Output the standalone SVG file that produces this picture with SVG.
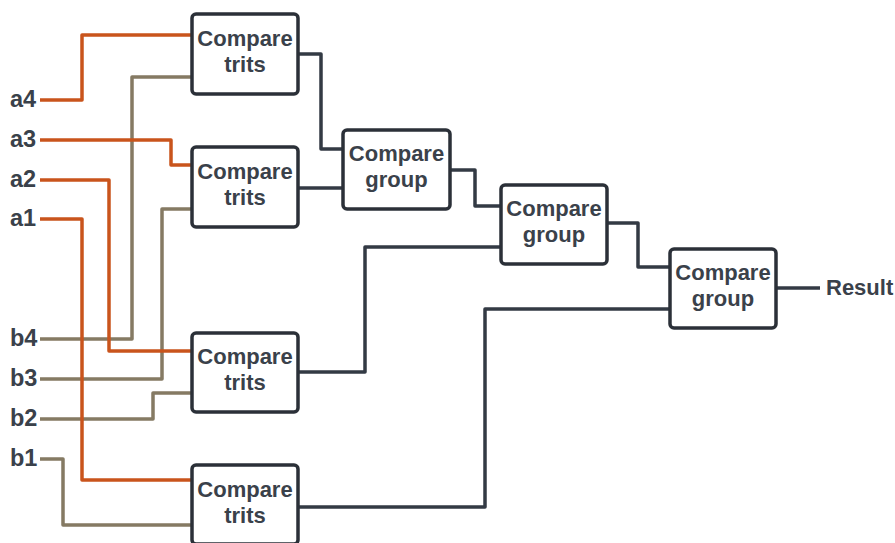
<svg xmlns="http://www.w3.org/2000/svg" width="895" height="543" viewBox="0 0 895 543">
  <style>
    .box { fill: #ffffff; stroke: #2b3038; stroke-width: 3.5; }
    .lbl { font-family: "Liberation Sans", Arial, sans-serif; font-weight: bold; font-size: 22px; fill: #3a414a; }
    .io { font-size: 23.5px; }
    .ctr { text-anchor: middle; }
    .wa { fill: none; stroke: #c9541c; stroke-width: 3.5; stroke-linejoin: round; }
    .wb { fill: none; stroke: #857a63; stroke-width: 3.5; stroke-linejoin: round; }
    .wd { fill: none; stroke: #333a44; stroke-width: 3.5; stroke-linejoin: round; }
  </style>
  <rect width="895" height="543" fill="#ffffff"/>

  <!-- wires -->
  <g id="connectors">
    <path class="wa" d="M40 100 H82 V35 H192"/>
    <path class="wb" d="M40 339 H132 V77 H192"/>
    <path class="wa" d="M40 140 H171 V165 H192"/>
    <path class="wb" d="M40 379 H162 V209 H192"/>
    <path class="wa" d="M40 180 H109 V351 H192"/>
    <path class="wb" d="M40 419 H153 V393 H192"/>
    <path class="wa" d="M40 219 H82 V480 H192"/>
    <path class="wb" d="M40 459 H63 V525 H192"/>

    <path class="wd" d="M298 54 H321 V149 H343"/>
    <path class="wd" d="M298 188 H343"/>
    <path class="wd" d="M450 170 H475 V206 H501"/>
    <path class="wd" d="M298 372 H365 V247 H501"/>
    <path class="wd" d="M607 223 H638 V267 H670"/>
    <path class="wd" d="M298 507 H485 V309 H670"/>
    <path class="wd" d="M776 288 H820"/>
  </g>

  <!-- input labels -->
  <g id="inputs" class="lbl io">
    <text x="10" y="107">a4</text>
    <text x="10" y="147">a3</text>
    <text x="10" y="187">a2</text>
    <text x="10" y="226">a1</text>
    <text x="10" y="346">b4</text>
    <text x="10" y="386">b3</text>
    <text x="10" y="426">b2</text>
    <text x="10" y="466">b1</text>
  </g>

  <g id="ct1">
    <rect class="box" x="192" y="14" width="106" height="80" rx="4"/>
    <text class="lbl ctr" x="245" y="46">Compare</text>
    <text class="lbl ctr" x="245" y="72">trits</text>
  </g>
  <g id="ct2">
    <rect class="box" x="192" y="147" width="106" height="80" rx="4"/>
    <text class="lbl ctr" x="245" y="179">Compare</text>
    <text class="lbl ctr" x="245" y="205">trits</text>
  </g>
  <g id="ct3">
    <rect class="box" x="192" y="333" width="106" height="79" rx="4"/>
    <text class="lbl ctr" x="245" y="364">Compare</text>
    <text class="lbl ctr" x="245" y="390">trits</text>
  </g>
  <g id="ct4">
    <rect class="box" x="192" y="465" width="106" height="79" rx="4"/>
    <text class="lbl ctr" x="245" y="497">Compare</text>
    <text class="lbl ctr" x="245" y="523">trits</text>
  </g>

  <g id="cg1">
    <rect class="box" x="343" y="130" width="107" height="79" rx="4"/>
    <text class="lbl ctr" x="396.5" y="161">Compare</text>
    <text class="lbl ctr" x="396.5" y="187">group</text>
  </g>
  <g id="cg2">
    <rect class="box" x="501" y="185" width="106" height="79" rx="4"/>
    <text class="lbl ctr" x="554" y="216">Compare</text>
    <text class="lbl ctr" x="554" y="242">group</text>
  </g>
  <g id="cg3">
    <rect class="box" x="670" y="249" width="106" height="79" rx="4"/>
    <text class="lbl ctr" x="723" y="280">Compare</text>
    <text class="lbl ctr" x="723" y="306">group</text>
  </g>

  <g id="result">
    <text class="lbl" x="826" y="295">Result</text>
  </g>
</svg>
